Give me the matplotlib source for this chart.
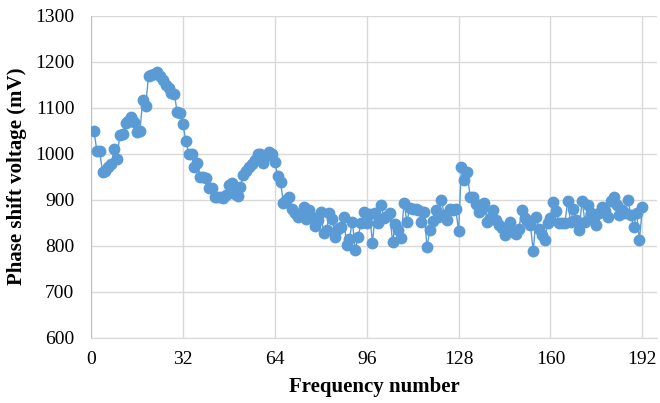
import matplotlib.pyplot as plt

plt.rcParams['font.family'] = ['Liberation Serif', 'DejaVu Serif']

# frequency numbers 1..192
freq = list(range(1, 193))
voltage = [
    1050, 1006, 1005, 960, 963, 970, 977, 1010, 988, 1040,
    1043, 1066, 1070, 1080, 1068, 1047, 1049, 1116, 1103, 1169,
    1170, 1172, 1178, 1168, 1160, 1150, 1142, 1131, 1129, 1090,
    1088, 1064, 1028, 1000, 998, 970, 980, 950, 948, 946,
    925, 924, 906, 905, 905, 903, 910, 931, 935, 912,
    908, 928, 953, 962, 971, 978, 986, 998, 1000, 979,
    995, 1004, 1000, 982, 951, 937, 893, 900, 906, 879,
    870, 863, 868, 884, 857, 877, 863, 842, 855, 873,
    828, 833, 870, 857, 819, 835, 840, 861, 801, 815,
    852, 790, 818, 849, 873, 848, 868, 806, 870, 848,
    888, 860, 865, 870, 808, 847, 833, 816, 893, 852,
    881, 880, 879, 877, 852, 872, 796, 834, 854, 877,
    862, 900, 867, 855, 880, 878, 880, 832, 970, 942,
    960, 906, 905, 890, 873, 880, 892, 852, 860, 877,
    856, 845, 838, 823, 840, 852, 830, 826, 835, 877,
    859, 853, 845, 788, 863, 835, 823, 812, 848, 860,
    895, 876, 848, 850, 848, 897, 851, 880, 855, 834,
    897, 852, 888, 871, 860, 845, 870, 884, 875, 863,
    897, 906, 888, 866, 877, 870, 899, 866, 840, 870,
    812, 883,
]
x_ticks = [0, 32, 64, 96, 128, 160, 192]
y_ticks = [600, 700, 800, 900, 1000, 1100, 1200, 1300]

fig = plt.figure(figsize=(6.6, 4.03), dpi=100)
ax = fig.add_axes([0.138, 0.1625, 0.857, 0.799])

blue = '#5B9BD5'
ax.plot(freq, voltage, color=blue, linewidth=1.0, marker='o',
        markersize=7.5, markerfacecolor=blue, markeredgecolor=blue, zorder=3)

ax.set_xlim(0, 197)
ax.set_ylim(600, 1300)
ax.set_xticks(x_ticks)
ax.set_yticks(y_ticks)
ax.grid(True, color='#d9d9d9', linewidth=1.0)
ax.set_axisbelow(True)

for s in ['top', 'right']:
    ax.spines[s].set_visible(False)
ax.spines['left'].set_color('#bfbfbf')
ax.spines['bottom'].set_color('#d9d9d9')
ax.tick_params(length=0, labelsize=14, colors='black')
ax.tick_params(axis='y', pad=12)
ax.tick_params(axis='x', pad=10)

ax.set_xlabel('Frequency number', fontsize=15, fontweight='bold', labelpad=6)
ax.set_ylabel('Phase shift voltage (mV)', fontsize=15, fontweight='bold', labelpad=6)

fig.savefig('out.png', dpi=100)
